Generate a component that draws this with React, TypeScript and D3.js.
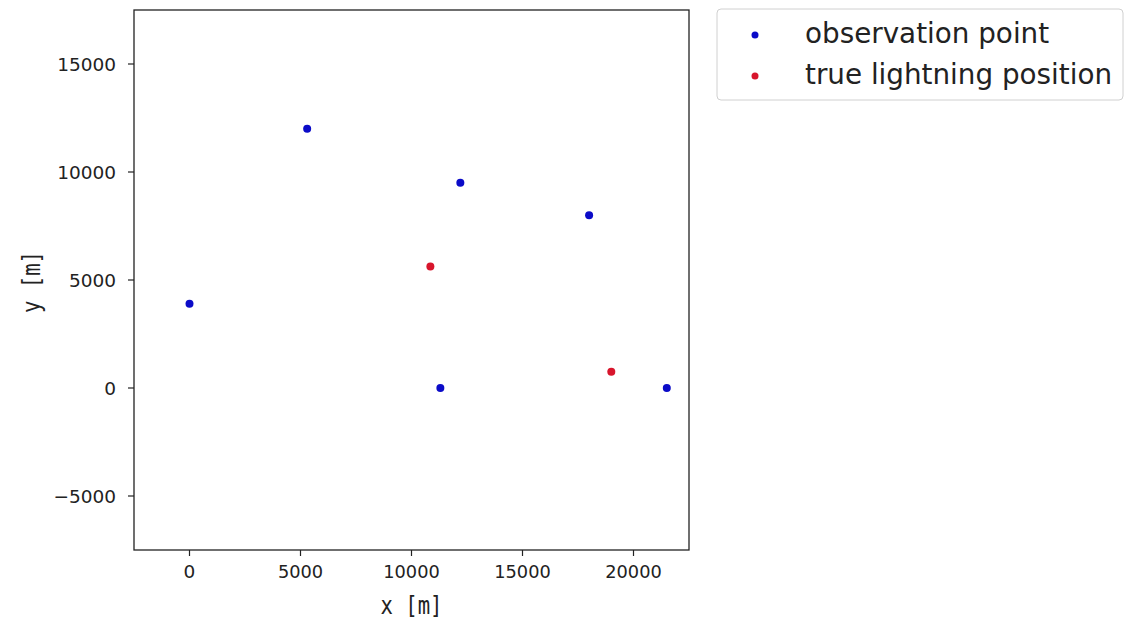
import React, { useEffect } from "react";
import * as d3 from "d3";

const obsX = [0, 5300, 12200, 18000, 11300, 21500];
const obsY = [3900, 12000, 9500, 8000, 0, 0];
const trueX = [10850, 19000];
const trueY = [5620, 750];
const xTicks = [0, 5000, 10000, 15000, 20000];
const yTicks = [-5000, 0, 5000, 10000, 15000];
const legendLabels = ["observation point", "true lightning position"];
const xLabel = "x [m]";
const yLabel = "y [m]";

const W = 1126;
const H = 623;
const left = 134, right = 689, top = 10, bottom = 550;
const BLUE = "#0b0bc8";
const RED = "#d8152c";

export default function App() {
  useEffect(() => {
    document.body.style.margin = "0";
  }, []);
  const x = d3.scaleLinear().domain([-2500, 22500]).range([left, right]);
  const y = d3.scaleLinear().domain([-7500, 17500]).range([bottom, top]);
  const tickFont = "'DejaVu Sans', sans-serif";
  const obs = obsX.map((v, i) => [v, obsY[i]]);
  const tru = trueX.map((v, i) => [v, trueY[i]]);
  return (
    <svg width={W} height={H} style={{ display: "block", background: "#fff" }}>
      <rect x={left} y={top} width={right - left} height={bottom - top} fill="#fff" stroke="#222" strokeWidth={1.3} />
      {xTicks.map((t) => (
        <g key={"x" + t}>
          <line x1={x(t)} x2={x(t)} y1={bottom} y2={bottom + 6} stroke="#222" strokeWidth={1.2} />
          <text x={x(t)} y={578} textAnchor="middle" fontFamily={tickFont} fontSize={18.5} fill="#222" textLength={t === 0 ? undefined : String(t).length * 11.3} lengthAdjust="spacingAndGlyphs">
            {d3.format("")(t)}
          </text>
        </g>
      ))}
      {yTicks.map((t) => (
        <g key={"y" + t}>
          <line x1={left - 6} x2={left} y1={y(t)} y2={y(t)} stroke="#222" strokeWidth={1.2} />
          <text x={116} y={y(t)} dy="0.36em" textAnchor="end" fontFamily={tickFont} fontSize={18.5} fill="#222">
            {t < 0 ? "\u2212" + Math.abs(t) : String(t)}
          </text>
        </g>
      ))}
      <text x={(left + right) / 2} y={614} textAnchor="middle" fontFamily="'DejaVu Sans Mono', monospace" fontSize={25} fill="#222" textLength={62} lengthAdjust="spacingAndGlyphs">
        {xLabel}
      </text>
      <text transform={`translate(40,${(top + bottom) / 2 + 2}) rotate(-90)`} textAnchor="middle" fontFamily="'DejaVu Sans Mono', monospace" fontSize={25} fill="#222" textLength={62} lengthAdjust="spacingAndGlyphs">
        {yLabel}
      </text>
      {obs.map((d, i) => (
        <circle key={"o" + i} cx={x(d[0])} cy={y(d[1])} r={4} fill={BLUE} />
      ))}
      {tru.map((d, i) => (
        <circle key={"t" + i} cx={x(d[0])} cy={y(d[1])} r={4} fill={RED} />
      ))}
      <rect x={717} y={9} width={406} height={91} rx={4} fill="#fff" stroke="#d0d0d0" strokeWidth={1} />
      {legendLabels.map((l, i) => (
        <g key={l}>
          <circle cx={755} cy={35 + i * 41} r={3.5} fill={i === 0 ? BLUE : RED} />
          <text x={805} y={43 + i * 41} fontFamily={tickFont} fontSize={27.8} fill="#222">
            {l}
          </text>
        </g>
      ))}
    </svg>
  );
}
